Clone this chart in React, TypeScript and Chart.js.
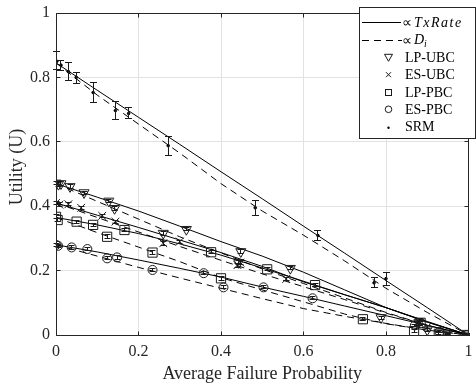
import React, { useEffect, useRef } from 'react';
import { Chart, registerables } from 'chart.js';

Chart.register(...registerables);

const FONT = "'Liberation Serif', 'Times New Roman', serif";
const AXIS = '#262626';

// Theory curves, sampled on this grid of average failure probability
const lineX = [0, 0.1, 0.2, 0.3, 0.4, 0.5, 0.6, 0.7, 0.8, 0.9, 1];

// ∝ TxRate (solid)
const lpUbcSolid = [0.47, 0.428, 0.385, 0.338, 0.29, 0.245, 0.195, 0.14, 0.085, 0.04, 0];
const esUbcSolid = [0.41, 0.372, 0.334, 0.295, 0.256, 0.213, 0.165, 0.125, 0.085, 0.04, 0];
const lpPbcSolid = [0.365, 0.342, 0.315, 0.283, 0.248, 0.208, 0.167, 0.125, 0.085, 0.042, 0];
const esPbcSolid = [0.28, 0.258, 0.233, 0.207, 0.18, 0.149, 0.12, 0.09, 0.06, 0.03, 0];
const srmSolid = [0.845, 0.76, 0.676, 0.592, 0.507, 0.423, 0.338, 0.254, 0.169, 0.085, 0];

// ∝ D_i (dashed)
const lpUbcDashed = [0.47, 0.415, 0.36, 0.305, 0.255, 0.205, 0.16, 0.115, 0.07, 0.03, 0];
const esUbcDashed = [0.41, 0.365, 0.32, 0.275, 0.232, 0.19, 0.15, 0.11, 0.068, 0.03, 0];
const lpPbcDashed = [0.365, 0.318, 0.273, 0.228, 0.178, 0.14, 0.103, 0.065, 0.035, 0.015, 0];
const esPbcDashed = [0.28, 0.245, 0.21, 0.177, 0.145, 0.113, 0.082, 0.058, 0.036, 0.015, 0];
const srmDashed = [0.845, 0.745, 0.655, 0.565, 0.47, 0.385, 0.31, 0.23, 0.145, 0.07, 0];

// Simulation points (mean and error half-width)
const lpUbcX = [0.0, 0.006, 0.012, 0.034, 0.068, 0.128, 0.142, 0.26, 0.316, 0.443, 0.448, 0.568, 0.788, 0.88, 0.9, 0.948, 0.996];
const lpUbcY = [0.472, 0.468, 0.47, 0.461, 0.442, 0.416, 0.393, 0.316, 0.328, 0.225, 0.259, 0.207, 0.054, 0.04, 0.016, 0.003, 0.0];
const lpUbcErr = [0.006, 0.006, 0.006, 0.005, 0.005, 0.005, 0.006, 0.006, 0.005, 0.006, 0.005, 0.005, 0.005, 0.004, 0.004, 0.003, 0.002];

const esUbcX = [0.0, 0.008, 0.03, 0.061, 0.112, 0.144, 0.26, 0.3, 0.44, 0.447, 0.558, 0.88, 0.9, 0.95, 0.996];
const esUbcY = [0.41, 0.405, 0.406, 0.395, 0.37, 0.352, 0.285, 0.29, 0.217, 0.225, 0.174, 0.04, 0.025, 0.005, 0.0];
const esUbcErr = [0.006, 0.006, 0.005, 0.005, 0.005, 0.005, 0.006, 0.005, 0.006, 0.005, 0.005, 0.004, 0.004, 0.003, 0.002];

const lpPbcX = [0.0, 0.004, 0.05, 0.09, 0.124, 0.166, 0.234, 0.376, 0.4, 0.512, 0.628, 0.744, 0.868, 0.884, 0.928, 0.996];
const lpPbcY = [0.367, 0.357, 0.352, 0.342, 0.305, 0.326, 0.256, 0.257, 0.176, 0.204, 0.155, 0.049, 0.012, 0.038, 0.004, 0.0];
const lpPbcErr = [0.006, 0.006, 0.005, 0.005, 0.006, 0.005, 0.006, 0.005, 0.006, 0.005, 0.005, 0.005, 0.004, 0.004, 0.003, 0.002];

const esPbcX = [0.0, 0.005, 0.038, 0.076, 0.124, 0.148, 0.234, 0.358, 0.406, 0.503, 0.622, 0.87, 0.93, 0.996];
const esPbcY = [0.28, 0.277, 0.272, 0.267, 0.238, 0.241, 0.202, 0.192, 0.148, 0.148, 0.114, 0.03, 0.01, 0.0];
const esPbcErr = [0.005, 0.005, 0.005, 0.005, 0.005, 0.005, 0.005, 0.005, 0.005, 0.005, 0.005, 0.004, 0.003, 0.002];

const srmX = [0.002, 0.012, 0.03, 0.049, 0.09, 0.144, 0.176, 0.272, 0.483, 0.635, 0.771, 0.8, 0.88, 0.996];
const srmY = [0.85, 0.838, 0.818, 0.8, 0.753, 0.697, 0.688, 0.588, 0.395, 0.309, 0.162, 0.175, 0.04, 0.0];
const srmLo = [0.823, 0.821, 0.79, 0.782, 0.723, 0.668, 0.671, 0.559, 0.37, 0.295, 0.147, 0.155, 0.03, 0.0];
const srmHi = [0.88, 0.854, 0.847, 0.816, 0.783, 0.726, 0.706, 0.618, 0.419, 0.323, 0.178, 0.195, 0.05, 0.005];

const xTicks = [0, 0.2, 0.4, 0.6, 0.8, 1];
const yTicks = [0, 0.2, 0.4, 0.6, 0.8, 1];
const xTitle = 'Average Failure Probability';
const yTitle = 'Utility (U)';
const legendNames = ['LP-UBC', 'ES-UBC', 'LP-PBC', 'ES-PBC', 'SRM'];

const pts = (xs: number[], ys: number[]) => xs.map((x, i) => ({ x, y: ys[i] }));

const lineDs = (ys: number[], dashed: boolean) => ({
  data: pts(lineX, ys),
  showLine: true,
  borderColor: '#000',
  borderWidth: 1,
  borderDash: dashed ? [7, 5] : [],
  pointRadius: 0,
  tension: 0,
  order: 2,
});

const markerDs = (xs: number[], ys: number[], lo: number[], hi: number[], style: any, radius: number, rotation = 0, cap = 3) => ({
  data: pts(xs, ys),
  showLine: false,
  pointStyle: style,
  pointRadius: radius,
  pointRotation: rotation,
  pointBorderColor: '#1a1a1a',
  pointBackgroundColor: 'rgba(0,0,0,0)',
  pointBorderWidth: 1,
  errLo: lo,
  errHi: hi,
  capHalf: cap,
  order: 1,
});

const align = (v: number) => Math.round(v - 0.5) + 0.5;

const errorBarPlugin = {
  id: 'errbars',
  afterDatasetsDraw(chart: any) {
    const ctx = chart.ctx;
    const xs = chart.scales.x;
    const ys = chart.scales.y;
    chart.data.datasets.forEach((ds: any) => {
      if (!ds.errLo) return;
      ctx.save();
      ctx.strokeStyle = '#1a1a1a';
      ctx.lineWidth = 1;
      ds.data.forEach((p: any, i: number) => {
        const px = align(xs.getPixelForValue(p.x));
        const lo = ys.getPixelForValue(ds.errLo[i]);
        const hi = ys.getPixelForValue(ds.errHi[i]);
        const c = ds.capHalf;
        ctx.beginPath();
        ctx.moveTo(px, lo);
        ctx.lineTo(px, hi);
        ctx.moveTo(px - c, align(lo));
        ctx.lineTo(px + c, align(lo));
        ctx.moveTo(px - c, align(hi));
        ctx.lineTo(px + c, align(hi));
        ctx.stroke();
      });
      ctx.restore();
    });
  },
};

const framePlugin = {
  id: 'frame',
  afterDraw(chart: any) {
    const ctx = chart.ctx;
    const { left, right, top, bottom } = chart.chartArea;
    const xs = chart.scales.x;
    const ys = chart.scales.y;
    ctx.save();
    ctx.strokeStyle = AXIS;
    ctx.lineWidth = 1;
    const L = align(left), R = align(right), T = align(top), B = align(bottom);
    ctx.beginPath();
    ctx.rect(L, T, R - L, B - T);
    ctx.stroke();
    const tl = 4;
    ctx.beginPath();
    xTicks.forEach((v) => {
      const px = align(xs.getPixelForValue(v));
      ctx.moveTo(px, B);
      ctx.lineTo(px, B - tl);
      ctx.moveTo(px, T);
      ctx.lineTo(px, T + tl);
    });
    yTicks.forEach((v) => {
      const py = align(ys.getPixelForValue(v));
      ctx.moveTo(L, py);
      ctx.lineTo(L + tl, py);
      ctx.moveTo(R, py);
      ctx.lineTo(R - tl, py);
    });
    ctx.stroke();

    // axis titles
    ctx.fillStyle = AXIS;
    ctx.font = `18px ${FONT}`;
    ctx.textAlign = 'center';
    ctx.textBaseline = 'alphabetic';
    ctx.fillText(xTitle, (left + right) / 2, 379);
    ctx.save();
    ctx.translate(21.5, 167);
    ctx.rotate(-Math.PI / 2);
    ctx.fillText(yTitle, 0, 0);
    ctx.restore();

    // legend
    const bx = 359.5, by = 7.5, bw = 116, bh = 131;
    ctx.fillStyle = '#fff';
    ctx.fillRect(bx, by, bw, bh);
    ctx.strokeStyle = AXIS;
    ctx.strokeRect(bx, by, bw, bh);
    const rows = [22.7, 40, 57.3, 74.7, 92, 109.3, 126.7];
    ctx.strokeStyle = '#000';
    ctx.fillStyle = '#000';
    ctx.lineWidth = 1;
    // row 0: solid
    ctx.beginPath();
    ctx.moveTo(362, align(rows[0]));
    ctx.lineTo(401, align(rows[0]));
    ctx.stroke();
    // row 1: dashed
    ctx.setLineDash([7, 5]);
    ctx.beginPath();
    ctx.moveTo(362, align(rows[1]));
    ctx.lineTo(402, align(rows[1]));
    ctx.stroke();
    ctx.setLineDash([]);
    ctx.textAlign = 'left';
    ctx.textBaseline = 'middle';
    ctx.font = `14px ${FONT}`;
    ctx.fillText('∝', 402, rows[0] + 1);
    ctx.fillText('∝', 402, rows[1] + 1);
    ctx.font = `italic 14px ${FONT}`;
    (ctx as any).letterSpacing = '1.5px';
    ctx.fillText('TxRate', 414, rows[0] + 1);
    (ctx as any).letterSpacing = '0px';
    ctx.fillText('D', 414, rows[1]);
    ctx.font = `italic 10px ${FONT}`;
    ctx.fillText('i', 424, rows[1] + 4);
    ctx.font = `14px ${FONT}`;
    legendNames.forEach((n, i) => ctx.fillText(n, 405, rows[i + 2] + 1));
    // symbols
    const sx = 388.5;
    ctx.strokeStyle = '#1a1a1a';
    let y = rows[2];
    ctx.beginPath();
    ctx.moveTo(sx - 4, y - 3);
    ctx.lineTo(sx + 4, y - 3);
    ctx.lineTo(sx, y + 4);
    ctx.closePath();
    ctx.stroke();
    y = rows[3];
    ctx.beginPath();
    ctx.moveTo(sx - 2.5, y - 2.5);
    ctx.lineTo(sx + 2.5, y + 2.5);
    ctx.moveTo(sx + 2.5, y - 2.5);
    ctx.lineTo(sx - 2.5, y + 2.5);
    ctx.stroke();
    y = rows[4];
    ctx.strokeRect(sx - 3, align(y) - 3, 6, 6);
    y = rows[5];
    ctx.beginPath();
    ctx.arc(sx, y, 3.3, 0, Math.PI * 2);
    ctx.stroke();
    y = rows[6];
    ctx.beginPath();
    ctx.arc(sx, y + 1, 1.2, 0, Math.PI * 2);
    ctx.fill();
    ctx.restore();
  },
};

export default function App() {
  const ref = useRef<HTMLCanvasElement>(null);
  useEffect(() => {
    if (!ref.current) return;
    const datasets: any[] = [
      markerDs(lpUbcX, lpUbcY, lpUbcY.map((v, i) => v - lpUbcErr[i]), lpUbcY.map((v, i) => v + lpUbcErr[i]), 'triangle', 5.8, 180),
      markerDs(esUbcX, esUbcY, esUbcY.map((v, i) => v - esUbcErr[i]), esUbcY.map((v, i) => v + esUbcErr[i]), 'crossRot', 5.5),
      markerDs(lpPbcX, lpPbcY, lpPbcY.map((v, i) => v - lpPbcErr[i]), lpPbcY.map((v, i) => v + lpPbcErr[i]), 'rect', 6.5),
      markerDs(esPbcX, esPbcY, esPbcY.map((v, i) => v - esPbcErr[i]), esPbcY.map((v, i) => v + esPbcErr[i]), 'circle', 4.5),
      { ...markerDs(srmX, srmY, srmLo, srmHi, 'circle', 1.3, 0, 3.5), pointBackgroundColor: '#000', pointBorderColor: '#000' },
      lineDs(lpUbcSolid, false),
      lineDs(esUbcSolid, false),
      lineDs(lpPbcSolid, false),
      lineDs(esPbcSolid, false),
      lineDs(srmSolid, false),
      lineDs(lpUbcDashed, true),
      lineDs(esUbcDashed, true),
      lineDs(lpPbcDashed, true),
      lineDs(esPbcDashed, true),
      lineDs(srmDashed, true),
    ];
    const chart = new Chart(ref.current, {
      type: 'scatter',
      data: { datasets },
      options: {
        responsive: false,
        animation: false,
        layout: { padding: { top: 13, right: 3, left: 0, bottom: 0 } },
        plugins: { legend: { display: false }, tooltip: { enabled: false } },
        scales: {
          x: {
            type: 'linear',
            min: 0,
            max: 1,
            afterFit: (s: any) => {
              s.height = 49;
              s.paddingLeft = 0;
              s.paddingRight = 0;
            },
            afterBuildTicks: (s: any) => {
              s.ticks = xTicks.map((v) => ({ value: v }));
            },
            ticks: {
              padding: 7,
              color: AXIS,
              font: { family: FONT, size: 16 },
              maxRotation: 0,
              callback: (v: any) => String(Math.round(v * 10) / 10),
            },
            grid: { color: '#e2e2e2', drawTicks: false, lineWidth: 1 },
            border: { display: false },
          },
          y: {
            type: 'linear',
            min: 0,
            max: 1,
            afterFit: (s: any) => {
              s.width = 56;
              s.paddingTop = 0;
              s.paddingBottom = 0;
            },
            afterBuildTicks: (s: any) => {
              s.ticks = yTicks.map((v) => ({ value: v }));
            },
            ticks: {
              padding: 6,
              color: AXIS,
              font: { family: FONT, size: 16 },
              callback: (v: any) => String(Math.round(v * 10) / 10),
            },
            grid: { color: '#e2e2e2', drawTicks: false, lineWidth: 1 },
            border: { display: false },
          },
        },
      },
      plugins: [errorBarPlugin, framePlugin],
    } as any);
    return () => chart.destroy();
  }, []);
  return (
    <div style={{ position: 'fixed', left: 0, top: 0, width: 476, height: 384, background: '#fff' }}>
      <canvas ref={ref} width={476} height={384} style={{ display: 'block' }} />
    </div>
  );
}
